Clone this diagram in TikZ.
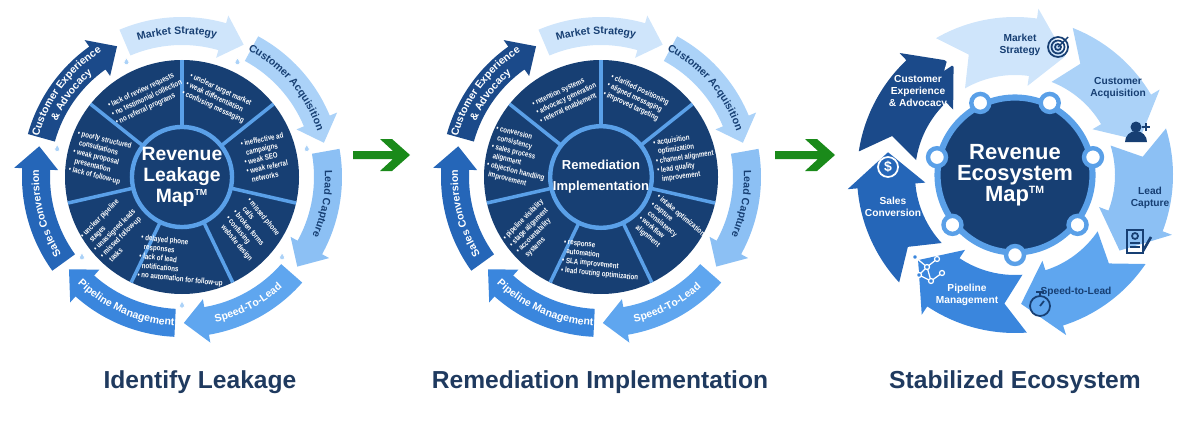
\documentclass[tikz,border=0pt]{standalone}
\usepackage{fontspec}
\setmainfont{Liberation Sans}
\setsansfont{Liberation Sans}
\newfontfamily\narrow{Liberation Sans}[FakeStretch=0.8]
\usetikzlibrary{decorations.text,shapes.geometric,calc}
\definecolor{navy}{HTML}{173F73}
\definecolor{rimblue}{HTML}{5AA0E8}
\definecolor{ttl}{HTML}{1F3A5F}
\definecolor{cA}{HTML}{CFE5FB}
\definecolor{cB}{HTML}{ABD2F8}
\definecolor{cC}{HTML}{8CC0F4}
\definecolor{cD}{HTML}{5FA6EF}
\definecolor{cE}{HTML}{3A86DD}
\definecolor{cF}{HTML}{2566B8}
\definecolor{cG}{HTML}{1B4A8A}
\definecolor{go}{HTML}{1A8A1A}

\tikzset{
  wedge/.style={font=\narrow\bfseries\fontsize{4.4}{5.3}\selectfont, text=white, align=left, inner sep=0pt},
  hub/.style={circle, fill=navy, draw=rimblue, line width=2.5pt, text=white, align=center, font=\bfseries, inner sep=0pt},
  eco/.style={font=\bfseries\fontsize{5.8}{7}\selectfont, align=center, inner sep=0pt},
  title/.style={font=\bfseries\fontsize{14}{16}\selectfont, text=ttl}
}
% ring arrow: {centre angle}{colour}{r in}{r out}
\newcommand\ringarr[4]{%
  \fill[#2] (#1+23:#4) arc[start angle=#1+23, end angle=#1-16, radius=#4]
    -- (#1-16:#4+8) -- (#1-25:{(#3+#4)/2}) -- (#1-16:#3-8) -- (#1-16:#3)
    arc[start angle=#1-16, end angle=#1+23, radius=#3] -- cycle;}
\newcommand\ecoarr[2]{%
  \fill[#2] (#1+24:158) arc[start angle=#1+24, end angle=#1-14, radius=158]
    -- (#1-14:168) -- (#1-29:129) -- (#1-14:90) -- (#1-14:100)
    arc[start angle=#1-14, end angle=#1+24, radius=100] -- (#1+15:129) -- cycle;}
% text on the ring, clockwise / counter-clockwise
\newcommand\cwtext[4]{%
  \path[decorate, decoration={text along path, text align=center,
    text={|\bfseries\fontsize{6}{7}\selectfont\color{#4}|#3}}]
    (#1+40:#2) arc[start angle=#1+40, end angle=#1-36, radius=#2];}
\newcommand\ccwtext[4]{%
  \path[decorate, decoration={text along path, text align=center,
    text={|\bfseries\fontsize{6}{7}\selectfont\color{#4}|#3}}]
    (#1-36:#2) arc[start angle=#1-36, end angle=#1+40, radius=#2];}
\newcommand\drop[1]{%
  \fill[white] (#1:128) circle (4.5);
  \filldraw[fill=cB, draw=white, line width=0.4pt] ($(#1:128)+(0,4)$) -- ++(-2.6,-4.5)
    arc[start angle=180, end angle=360, radius=2.6] -- cycle;}

\begin{document}
\begin{tikzpicture}[x=0.02cm, y=0.02cm]
\useasboundingbox (0,0) rectangle (1200,420);

% ---------- Identify Leakage ----------
\begin{scope}[shift={(182,243)}]
  \foreach \k/\col in {0/cA,1/cB,2/cC,3/cD,4/cE,5/cF,6/cG}
    \ringarr{90-51.43*\k}{\col}{132}{160};
  \foreach \k in {0,...,6}
    \drop{90-25.7-51.43*\k};
  \fill[navy] (0,0) circle (117);
  \foreach \k in {0,...,6}
    \draw[rimblue, line width=2pt] (90-51.43*\k:50) -- (90-51.43*\k:117);
  \node[hub, minimum size=1.95cm] (leak) at (0,0)
    {\fontsize{11}{12.5}\selectfont Revenue\\\fontsize{11}{12.5}\selectfont Leakage\\\fontsize{11}{12.5}\selectfont Map\textsuperscript{\fontsize{5}{5}\selectfont TM}};
  \node[wedge, rotate=-25] (l1) at (66:86) {\textbullet\ unclear target market\\\textbullet\ weak differentiation\\\textbullet\ confusing messaging};
  \node[wedge, rotate=12] (l2) at (13:86) {\textbullet\ ineffective ad\\ \ \ campaigns\\\textbullet\ weak SEO\\\textbullet\ weak referral\\ \ \ networks};
  \node[wedge, rotate=-50] (l3) at (-38:86) {\textbullet\ missed phone\\ \ \ calls\\\textbullet\ broken forms\\\textbullet\ confusing\\ \ \ website design};
  \node[wedge, rotate=-6] (l4) at (-90:84) {\textbullet\ delayed phone\\ \ \ responses\\\textbullet\ lack of lead\\ \ \ notifications\\\textbullet\ no automation for follow-up};
  \node[wedge, rotate=45] (l5) at (-142:86) {\textbullet\ unclear pipeline\\ \ \ stages\\\textbullet\ unassigned leads\\\textbullet\ missed follow-up\\ \ \ tasks};
  \node[wedge, rotate=-14] (l6) at (167:84) {\textbullet\ poorly structured\\ \ \ consultations\\\textbullet\ weak proposal\\ \ \ presentation\\\textbullet\ lack of follow-up};
  \node[wedge, rotate=25] (l7) at (114:86) {\textbullet\ lack of review requests\\\textbullet\ no testimonial collection\\\textbullet\ no referral programs};
  \cwtext{90}{143}{Market Strategy}{navy}
  \cwtext{38.57}{143}{Customer Acquisition}{navy}
  \cwtext{-12.86}{143}{Lead Capture}{navy}
  \ccwtext{-64.29}{149}{Speed-To-Lead}{white}
  \ccwtext{-115.71}{149}{Pipeline Management}{white}
  \cwtext{-167.14}{143}{Sales Conversion}{white}
  \cwtext{141.43}{149}{Customer Experience}{white}
  \cwtext{141.43}{137}{{\&} Advocacy}{white}
\end{scope}

% ---------- Remediation Implementation ----------
\begin{scope}[shift={(601,243)}]
  \foreach \k/\col in {0/cA,1/cB,2/cC,3/cD,4/cE,5/cF,6/cG}
    \ringarr{90-51.43*\k}{\col}{132}{160};
  \fill[navy] (0,0) circle (117);
  \foreach \k in {0,...,6}
    \draw[rimblue, line width=2pt] (90-51.43*\k:50) -- (90-51.43*\k:117);
  \node[hub, minimum size=1.95cm] (fix) at (0,0)
    {\fontsize{7.4}{9}\selectfont Remediation\\\fontsize{7.4}{9}\selectfont Implementation};
  \node[wedge, rotate=-25] (m1) at (66:86) {\textbullet\ clarified positioning\\\textbullet\ aligned messaging\\\textbullet\ improved targeting};
  \node[wedge, rotate=8] (m2) at (13:86) {\textbullet\ acquisition\\ \ \ optimization\\\textbullet\ channel alignment\\\textbullet\ lead quality\\ \ \ improvement};
  \node[wedge, rotate=-40] (m3) at (-38:86) {\textbullet\ intake optimization\\\textbullet\ capture\\ \ \ consistency\\\textbullet\ workflow\\ \ \ alignment};
  \node[wedge, rotate=-6] (m4) at (-90:84) {\textbullet\ response\\ \ \ automation\\\textbullet\ SLA improvement\\\textbullet\ lead routing optimization};
  \node[wedge, rotate=45] (m5) at (-142:86) {\textbullet\ pipeline visibility\\\textbullet\ stage alignment\\\textbullet\ accountability\\ \ \ systems};
  \node[wedge, rotate=-14] (m6) at (167:84) {\textbullet\ conversion\\ \ \ consistency\\\textbullet\ sales process\\ \ \ alignment\\\textbullet\ objection handling\\ \ \ improvement};
  \node[wedge, rotate=25] (m7) at (114:86) {\textbullet\ retention systems\\\textbullet\ advocacy generation\\\textbullet\ referral enablement};
  \cwtext{90}{143}{Market Strategy}{navy}
  \cwtext{38.57}{143}{Customer Acquisition}{navy}
  \cwtext{-12.86}{143}{Lead Capture}{navy}
  \ccwtext{-64.29}{149}{Speed-To-Lead}{white}
  \ccwtext{-115.71}{149}{Pipeline Management}{white}
  \cwtext{-167.14}{143}{Sales Conversion}{white}
  \cwtext{141.43}{149}{Customer Experience}{white}
  \cwtext{141.43}{137}{{\&} Advocacy}{white}
\end{scope}

% ---------- Stabilized Ecosystem ----------
\begin{scope}[shift={(1015,245)}]
  \foreach \k/\col in {0/cA,1/cB,2/cC,3/cD,4/cE,5/cF,6/cG}
    \ecoarr{96-51.43*\k}{\col};
  \node[hub, line width=3.5pt, minimum size=3.1cm] (eco) at (0,0)
    {\fontsize{12.5}{15}\selectfont Revenue\\\fontsize{12.5}{15}\selectfont Ecosystem\\\fontsize{12.5}{15}\selectfont Map\textsuperscript{\fontsize{6}{6}\selectfont TM}};
  \foreach \k in {0,...,6}
    \filldraw[fill=white, draw=rimblue, line width=2.5pt] (64.29-51.43*\k:80) circle (9);
  \node[eco, text=navy] (e1) at (5,130) {Market\\Strategy};
  \node[eco, text=navy] (e2) at (103,87) {Customer\\Acquisition};
  \node[eco, text=navy] (e3) at (135,-23) {Lead\\Capture};
  \node[eco, text=navy] (e4) at (61,-117) {Speed-to-Lead};
  \node[eco, text=white] (e5) at (-48,-120) {Pipeline\\Management};
  \node[eco, text=white] (e6) at (-122,-32) {Sales\\Conversion};
  \node[eco, text=white] (e7) at (-97,83) {Customer\\Experience\\\& Advocacy};
  % icons
  \begin{scope}[navy, line width=1pt]
    \draw (43,128) circle (10) (43,128) circle (6.5) (43,128) circle (3);
    \draw[line width=0.8pt] (43,128) -- (53,138);
    \fill (121,48) circle (5.5);
    \fill (110,33) arc[start angle=180, end angle=0, radius=11] -- cycle;
    \draw[line width=1.2pt] (127,48) -- (135,48) (131,44) -- (131,52);
    \draw (112,-55) rectangle (128,-78);
    \draw (120,-61) circle (3);
    \draw[line width=0.6pt] (115,-68) -- (125,-68) (115,-72) -- (125,-72);
    \draw[line width=1.5pt] (128,-76) -- (136,-62);
    \draw (25,-131) circle (10);
    \draw (25,-121) -- (25,-118) (21,-117) -- (29,-117);
    \draw (25,-131) -- (29,-126);
  \end{scope}
  \begin{scope}[white, line width=0.7pt]
    \draw (-100,-82) -- (-88,-92) -- (-78,-84) (-88,-92) -- (-84,-106) -- (-73,-98)
      (-100,-82) -- (-96,-100) -- (-84,-106) (-88,-92) -- (-96,-100);
    \foreach \p in {(-100,-82),(-88,-92),(-78,-84),(-84,-106),(-73,-98),(-96,-100)}
      \draw[fill=cE] \p circle (2.5);
    \draw[line width=1pt] (-127,8) circle (10);
    \node[font=\bfseries\fontsize{8}{8}\selectfont] (dol) at (-127,8) {\$};
  \end{scope}
  \node[star, star points=5, star point ratio=2.4, fill=white, minimum size=15, inner sep=0pt] (st) at (-63,115) {};
\end{scope}

% ---------- green arrows ----------
\fill[go] (353,261) -- (393,261) -- (380,249) -- (392,249) -- (410,265) -- (392,281) -- (380,281) -- (393,269) -- (353,269) -- cycle;
\fill[go] (775,261) -- (818,261) -- (805,249) -- (817,249) -- (835,265) -- (817,281) -- (805,281) -- (818,269) -- (775,269) -- cycle;

% ---------- titles ----------
\node[title] (t1) at (200,38) {Identify Leakage};
\node[title] (t2) at (600,38) {Remediation Implementation};
\node[title] (t3) at (1015,38) {Stabilized Ecosystem};
\end{tikzpicture}
\end{document}
